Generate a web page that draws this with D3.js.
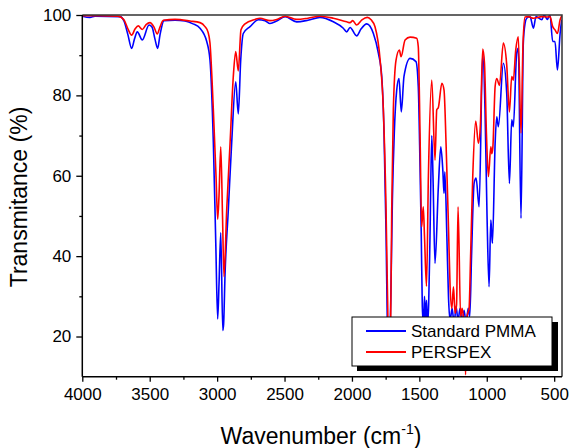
<!DOCTYPE html>
<html>
<head>
<meta charset="utf-8">
<script src="https://cdn.jsdelivr.net/npm/d3@7"></script>
<style>
  body { margin: 0; background: #fff; }
  text { font-family: "Liberation Sans", Arial, sans-serif; }
</style>
</head>
<body>
<div id="chart"></div>
<script>
// series (wavenumber in cm-1, transmittance in %)
var pmmaWave = [4000,3943,3906,3720,3691,3661,3634,3613,3592,3555,3505,3483,3461,3441,3424,3394,3312,3238,3179,3127,
  3077,3053,3028,3010,2996,2986,2973,2958,2952,2941,2917,2892,2862,2843,2825,2806,2756,2694,2645,2608,
  2558,2496,2410,2326,2237,2138,2064,2039,2014,1965,1933,1890,1841,1804,1779,1762,1747,1737,1729,1720,
  1712,1700,1686,1668,1651,1634,1614,1569,1525,1508,1495,1486,1478,1469,1462,1454,1447,1440,1431,1421,
  1408,1399,1384,1359,1341,1326,1317,1311,1296,1284,1272,1257,1242,1228,1213,1198,1183,1168,1153,1138,
  1126,1113,1094,1079,1057,1030,1013,998,983,970,964,958,938,926,914,877,852,832,815,803,
  778,766,746,729,716,704,679,654,635,592,575,551,531,511,494,476,456,444];
var pmmaT = [99.7,99.4,99.7,99.6,98.5,95,91.7,94,95.8,93.8,97.5,97,94,91.7,95,98.6,98.7,98.5,97.8,96.7,
  93.4,88.8,68.2,43.3,24.4,33,45.8,21.5,23,35.8,51.5,68.2,83.4,75.4,88.8,95.4,97.1,98.8,98.6,97.9,
  98.5,99.6,98.3,98.7,99.4,98.3,96.7,95.8,96.9,94.8,96.5,97.8,95.4,90.5,84.7,70.6,45.7,22,12,18,
  29.1,54,70.6,81.3,84.2,75.9,84.7,89.2,88.4,82.2,62.3,45.7,27.4,23,30,24,29,23,28,45,
  70,60,38.2,57.3,67.2,61.4,55.6,61,44.9,29.9,24,27,23,27.5,24,27,23.5,26.5,23,27,
  25,40,58.1,59.4,52.3,90.5,76.4,50,32.4,49,46,43.2,68.1,74.7,72.2,88,80.5,58.1,73.9,72.2,
  90.5,91.7,49.4,93,97.9,99.2,99.6,96.7,99.6,98.8,100,98.9,100,93.4,93.4,86.3,95.4,98.8];

var perspexWave = [4000,3869,3735,3691,3661,3634,3609,3585,3555,3527,3498,3468,3444,3424,3399,3312,3201,3127,3090,3068,
  3053,3028,3008,2996,2986,2973,2960,2949,2929,2904,2880,2862,2843,2823,2793,2719,2682,2608,2558,2496,
  2410,2326,2237,2138,2039,2014,1994,1965,1926,1886,1858,1829,1791,1767,1747,1736,1725,1714,1705,1693,
  1673,1648,1636,1606,1569,1520,1508,1495,1483,1471,1462,1447,1433,1408,1384,1371,1359,1333,1317,1302,
  1284,1272,1259,1247,1235,1224,1213,1194,1183,1172,1157,1146,1131,1120,1104,1082,1062,1047,1030,1017,
  1002,988,970,963,955,938,926,906,877,852,832,815,803,785,766,746,731,716,692,654,
  592,553,531,511,494,476,456,444];
var perspexT = [99.8,99.8,99.7,98.8,96.5,95,96.5,97.3,96.4,97.6,98.1,97,95.3,97,98.7,98.9,98.5,98.1,97.1,95.8,
  93,76.4,59.8,49.2,55,67.2,50,34.9,51.5,68.1,84.7,90.9,86.1,96.3,97.8,98.9,99.2,98.6,98.9,99.7,
  98.9,99.2,99.7,99.2,98.3,98.1,98.6,97.5,98.8,99.4,98.8,97.1,88.8,76.4,51.5,30,13,20,51.5,76.4,
  88.8,91.3,89.6,93.8,94.5,94.2,92.1,70.6,47.3,52.3,45,32.5,59.8,83.8,63.9,76.4,77,83,81.3,68.1,
  47.3,32.4,27,32.4,25.8,28,52.3,25,27,24,10.5,25,27,40,59.8,73.6,68.1,73,91.5,88,
  70,59.8,67.2,65.5,67,82.2,84.2,82.5,93,87.6,75.9,84.7,83.8,91.3,94.6,70.6,93,99.5,99.6,99.2,
  99.6,99.5,99.6,97.1,96.3,95.4,98.8,99.8];

var seriesNames = ["Standard PMMA", "PERSPEX"];
var seriesColors = ["#0000ff", "#ff0000"];
var xMajorTicks = [4000, 3500, 3000, 2500, 2000, 1500, 1000, 500];
var xMinorTicks = [3750, 3250, 2750, 2250, 1750, 1250, 750];
var yMajorTicks = [20, 40, 60, 80, 100];
var yMinorTicks = [30, 50, 70, 90];

var W = 570, H = 448;
var plotLeft = 82.3, plotRight = 562, plotTop = 15, plotBottom = 376.7;

var svg = d3.select("#chart").append("svg")
    .attr("width", W)
    .attr("height", H);

var x = d3.scaleLinear().domain([4000, 442]).range([plotLeft, plotRight]);
var y = d3.scaleLinear().domain([10, 100]).range([plotBottom, plotTop]);

svg.append("clipPath").attr("id", "clip")
  .append("rect")
    .attr("x", plotLeft).attr("y", plotTop)
    .attr("width", plotRight - plotLeft).attr("height", plotBottom - plotTop);

var pmma = pmmaWave.map(function(w, i) { return {w: w, t: pmmaT[i]}; });
var perspex = perspexWave.map(function(w, i) { return {w: w, t: perspexT[i]}; });

var line = d3.line()
    .x(function(d) { return x(d.w); })
    .y(function(d) { return y(d.t); })
    .curve(d3.curveMonotoneX);

var plot = svg.append("g").attr("clip-path", "url(#clip)");
[pmma, perspex].forEach(function(s, i) {
  plot.append("path")
    .datum(s)
    .attr("fill", "none")
    .attr("stroke", seriesColors[i])
    .attr("stroke-width", 1.6)
    .attr("stroke-linejoin", "round")
    .attr("d", line);
});

// frame (top and right)
svg.append("path")
  .attr("d", "M" + plotLeft + "," + plotTop + "H" + plotRight + "V" + plotBottom)
  .attr("fill", "none")
  .attr("stroke", "#333")
  .attr("stroke-width", 1.5);

// x axis, major then minor ticks
var xAxis = svg.append("g").attr("transform", "translate(0," + plotBottom + ")")
    .call(d3.axisBottom(x).tickValues(xMajorTicks).tickSize(5).tickPadding(6).tickFormat(d3.format("d")));
var xMinor = svg.append("g").attr("transform", "translate(0," + plotBottom + ")")
    .call(d3.axisBottom(x).tickValues(xMinorTicks).tickSize(3).tickFormat(""));
xMinor.select(".domain").remove();
xAxis.select(".domain").attr("d", "M" + plotLeft + ",0H" + plotRight);

// y axis
var yAxis = svg.append("g").attr("transform", "translate(" + plotLeft + ",0)")
    .call(d3.axisLeft(y).tickValues(yMajorTicks).tickSize(6).tickPadding(5));
var yMinor = svg.append("g").attr("transform", "translate(" + plotLeft + ",0)")
    .call(d3.axisLeft(y).tickValues(yMinorTicks).tickSize(3).tickFormat(""));
yMinor.select(".domain").remove();
yAxis.select(".domain").attr("d", "M0," + plotTop + "V" + plotBottom);

svg.selectAll(".domain").attr("stroke", "#000").attr("stroke-width", 1.5);
svg.selectAll(".tick line").attr("stroke", "#000").attr("stroke-width", 1.3);
svg.selectAll(".tick text").attr("font-size", 17).attr("fill", "#000")
  .style("font-family", "'Liberation Sans', Arial, sans-serif");

// axis titles
svg.append("text")
  .attr("transform", "translate(27,197) rotate(-90)")
  .attr("text-anchor", "middle")
  .attr("font-size", 23)
  .text("Transmitance (%)");

var xt = svg.append("text")
  .attr("x", 321).attr("y", 444)
  .attr("text-anchor", "middle")
  .attr("font-size", 23);
xt.append("tspan").text("Wavenumber (cm");
xt.append("tspan").attr("font-size", 14).attr("dy", -10).text("-1");
xt.append("tspan").attr("dy", 10).text(")");

// legend
var lg = svg.append("g");
lg.append("rect").attr("x", 357).attr("y", 322).attr("width", 201).attr("height", 49).attr("fill", "#000");
lg.append("rect").attr("x", 352).attr("y", 317).attr("width", 200).attr("height", 49)
  .attr("fill", "#fff").attr("stroke", "#000").attr("stroke-width", 1);
seriesNames.forEach(function(n, i) {
  var ly = 331 + i * 21;
  lg.append("line").attr("x1", 366).attr("x2", 406).attr("y1", ly).attr("y2", ly)
    .attr("stroke", seriesColors[i]).attr("stroke-width", 2);
  lg.append("text").attr("x", 411).attr("y", ly + 6).attr("font-size", 17).text(n);
});
</script>
</body>
</html>
